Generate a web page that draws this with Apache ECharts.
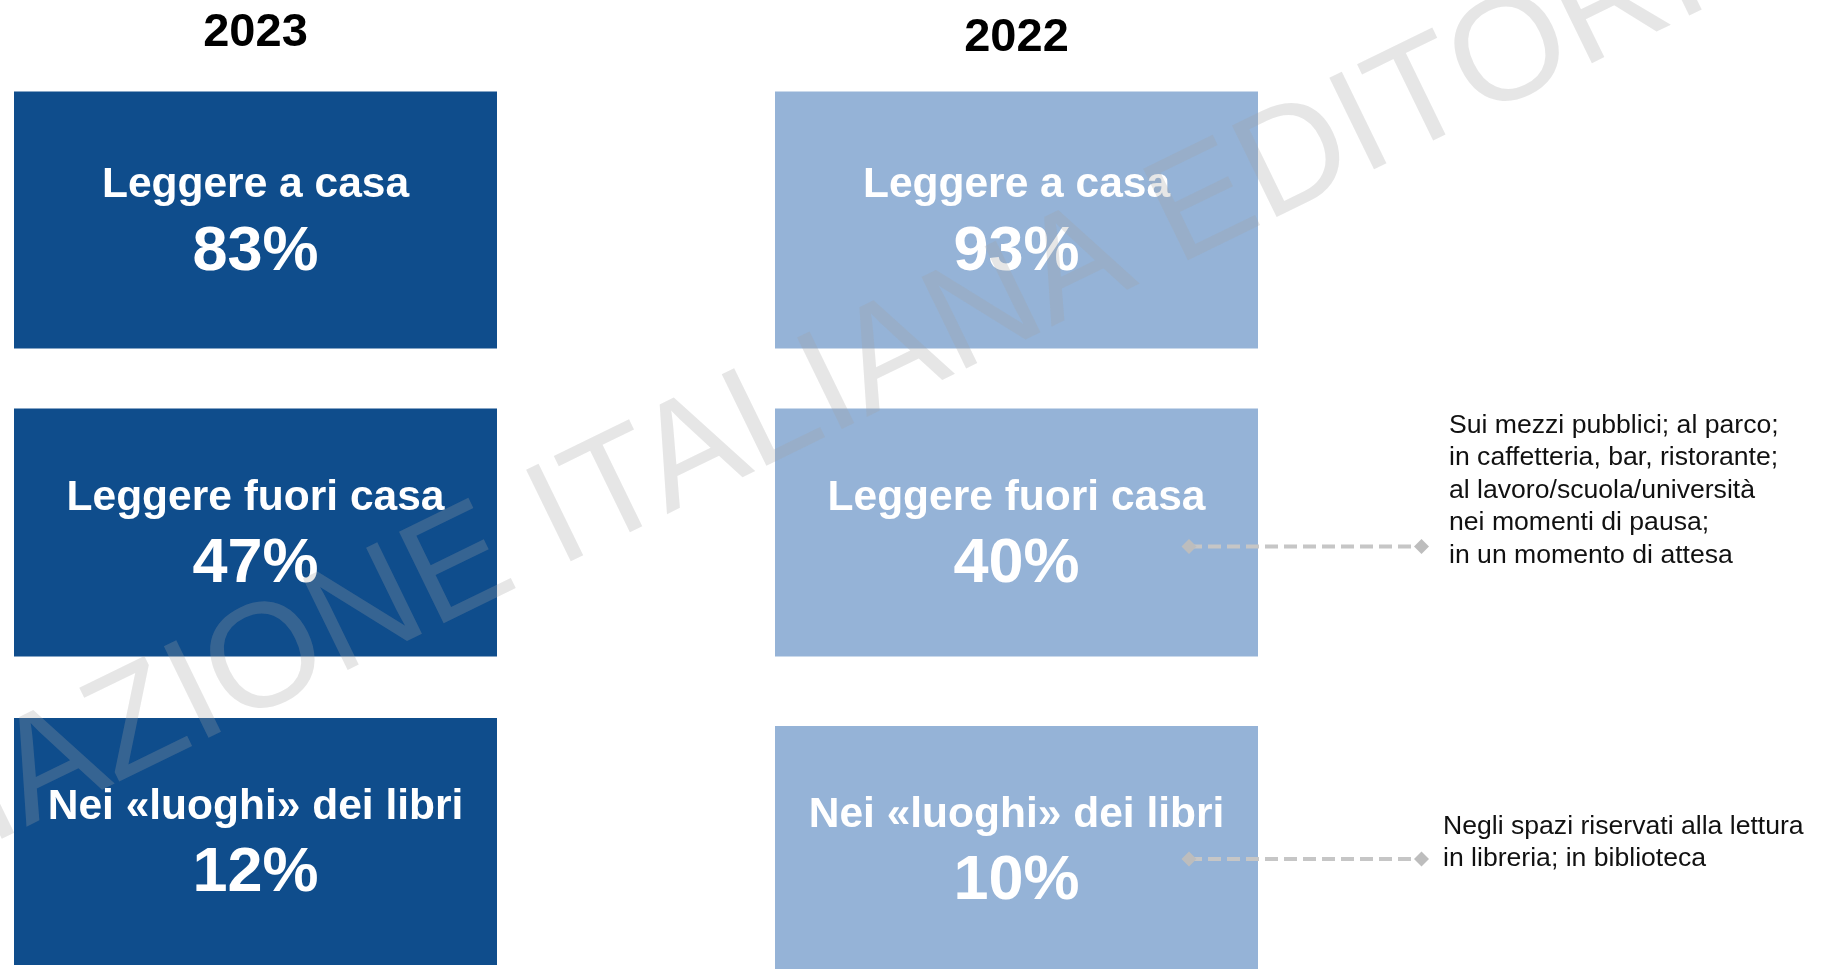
<!DOCTYPE html>
<html>
<head>
    <meta charset="utf-8" />
    <style>
        html, body {
            margin: 0;
            padding: 0;
            background-color: #fff;
        }
        #chart {
            width: 1828px;
            height: 969px;
        }
    </style>
    <script src="https://cdn.jsdelivr.net/npm/echarts@6/dist/echarts.min.js"></script>
</head>

<body>
    <div id="chart"></div>

    <script type="text/javascript">
        // colonne (anni) e righe (luoghi di lettura)
        var years = ['2023', '2022'];
        var places = ['Leggere a casa', 'Leggere fuori casa', 'Nei «luoghi» dei libri'];
        var share2023 = [83, 47, 12];
        var share2022 = [93, 40, 10];
        var notes2022 = [
            '',
            'Sui mezzi pubblici; al parco;\nin caffetteria, bar, ristorante;\nal lavoro/scuola/università\nnei momenti di pausa;\nin un momento di attesa',
            'Negli spazi riservati alla lettura\nin libreria; in biblioteca'
        ];
        var watermark = 'ASSOCIAZIONE ITALIANA EDITORI';

        var fontFamily = '"Liberation Sans", Arial, Helvetica, sans-serif';
        var boxColors = ['#0f4d8c', '#95b3d7'];
        var boxW = 483;
        var boxH = [257, 248, 247];
        // piccoli aggiustamenti verticali dei riquadri (per colonna e riga)
        var boxShift = [[0, 0, -3.5], [0, 0, 4.5]];
        // spostamento delle note rispetto al tratteggio
        var noteDy = [0, 9, 0];
        var noteDx = [0, 2.5, -3.5];

        function makeData(colIdx, shares) {
            var out = [];
            for (var i = 0; i < shares.length; i++) {
                out.push([colIdx, i, shares[i]]);
            }
            return out;
        }

        function makeRender(colIdx, notes) {
            return function (params, api) {
                var row = api.value(1);
                var c = api.coord([api.value(0), row]);
                var h = boxH[row];
                var cy = c[1] + boxShift[colIdx][row];
                var children = [
                    {
                        type: 'rect',
                        shape: { x: c[0] - boxW / 2, y: cy - h / 2, width: boxW, height: h },
                        style: { fill: boxColors[colIdx] }
                    },
                    {
                        type: 'text',
                        x: c[0], y: cy - 34.5,
                        style: {
                            text: places[row], fill: '#fff',
                            font: 'bold 42.5px ' + fontFamily,
                            align: 'center', verticalAlign: 'middle'
                        }
                    },
                    {
                        type: 'text',
                        x: c[0], y: cy + 32.5,
                        style: {
                            text: api.value(2) + '%', fill: '#fff',
                            font: 'bold 63px ' + fontFamily,
                            align: 'center', verticalAlign: 'middle'
                        }
                    }
                ];
                // nota a destra con il tratteggio
                if (notes && notes[row]) {
                    var ly = c[1] + 14;
                    var x1 = c[0] + 172.5, x2 = c[0] + 405;
                    children.push({
                        type: 'line',
                        shape: { x1: x1, y1: ly, x2: x2, y2: ly },
                        style: { stroke: '#c6c6c6', lineWidth: 4, lineDash: [13, 6] }
                    });
                    [x1, x2].forEach(function (dx) {
                        children.push({
                            type: 'polygon',
                            shape: { points: [[dx - 7.5, ly], [dx, ly - 7.5], [dx + 7.5, ly], [dx, ly + 7.5]] },
                            style: { fill: '#bdbdbd' }
                        });
                    });
                    children.push({
                        type: 'text',
                        x: c[0] + 430 + noteDx[row], y: ly + 16 + noteDy[row],
                        style: {
                            text: notes[row], fill: '#111',
                            font: '26.6px ' + fontFamily, lineHeight: 32.5,
                            align: 'left', verticalAlign: 'bottom'
                        }
                    });
                }
                return { type: 'group', children: children };
            };
        }

        var myChart = echarts.init(document.getElementById('chart'));

        var options = {
            animation: false,
            backgroundColor: '#fff',
            grid: { left: 255.5, right: 811.5, top: 220, bottom: 124 },
            xAxis: {
                type: 'category',
                position: 'top',
                data: years,
                boundaryGap: false,
                axisLine: { show: false },
                axisTick: { show: false },
                splitLine: { show: false },
                axisLabel: {
                    interval: 0,
                    margin: 158,
                    formatter: function (v) {
                        return v === years[0] ? '{a|' + v + '}' : '{b|' + v + '}';
                    },
                    rich: {
                        a: { fontSize: 47, fontWeight: 'bold', color: '#000', fontFamily: fontFamily, lineHeight: 58 },
                        b: { fontSize: 47, fontWeight: 'bold', color: '#000', fontFamily: fontFamily, lineHeight: 48 }
                    }
                }
            },
            yAxis: {
                type: 'category',
                data: places,
                inverse: true,
                boundaryGap: false,
                show: false
            },
            series: [
                {
                    name: years[0], type: 'custom', silent: true, clip: false,
                    renderItem: makeRender(0, null),
                    data: makeData(0, share2023)
                },
                {
                    name: years[1], type: 'custom', silent: true, clip: false,
                    renderItem: makeRender(1, notes2022),
                    data: makeData(1, share2022)
                }
            ],
            graphic: [{
                type: 'text',
                x: 601, y: 501,
                rotation: 26 * Math.PI / 180,
                z: 100,
                silent: true,
                style: {
                    text: watermark,
                    font: '148px ' + fontFamily,
                    fill: 'rgba(163,163,163,0.27)',
                    align: 'center', verticalAlign: 'middle'
                }
            }]
        };

        myChart.setOption(options);
    </script>
</body>
</html>
